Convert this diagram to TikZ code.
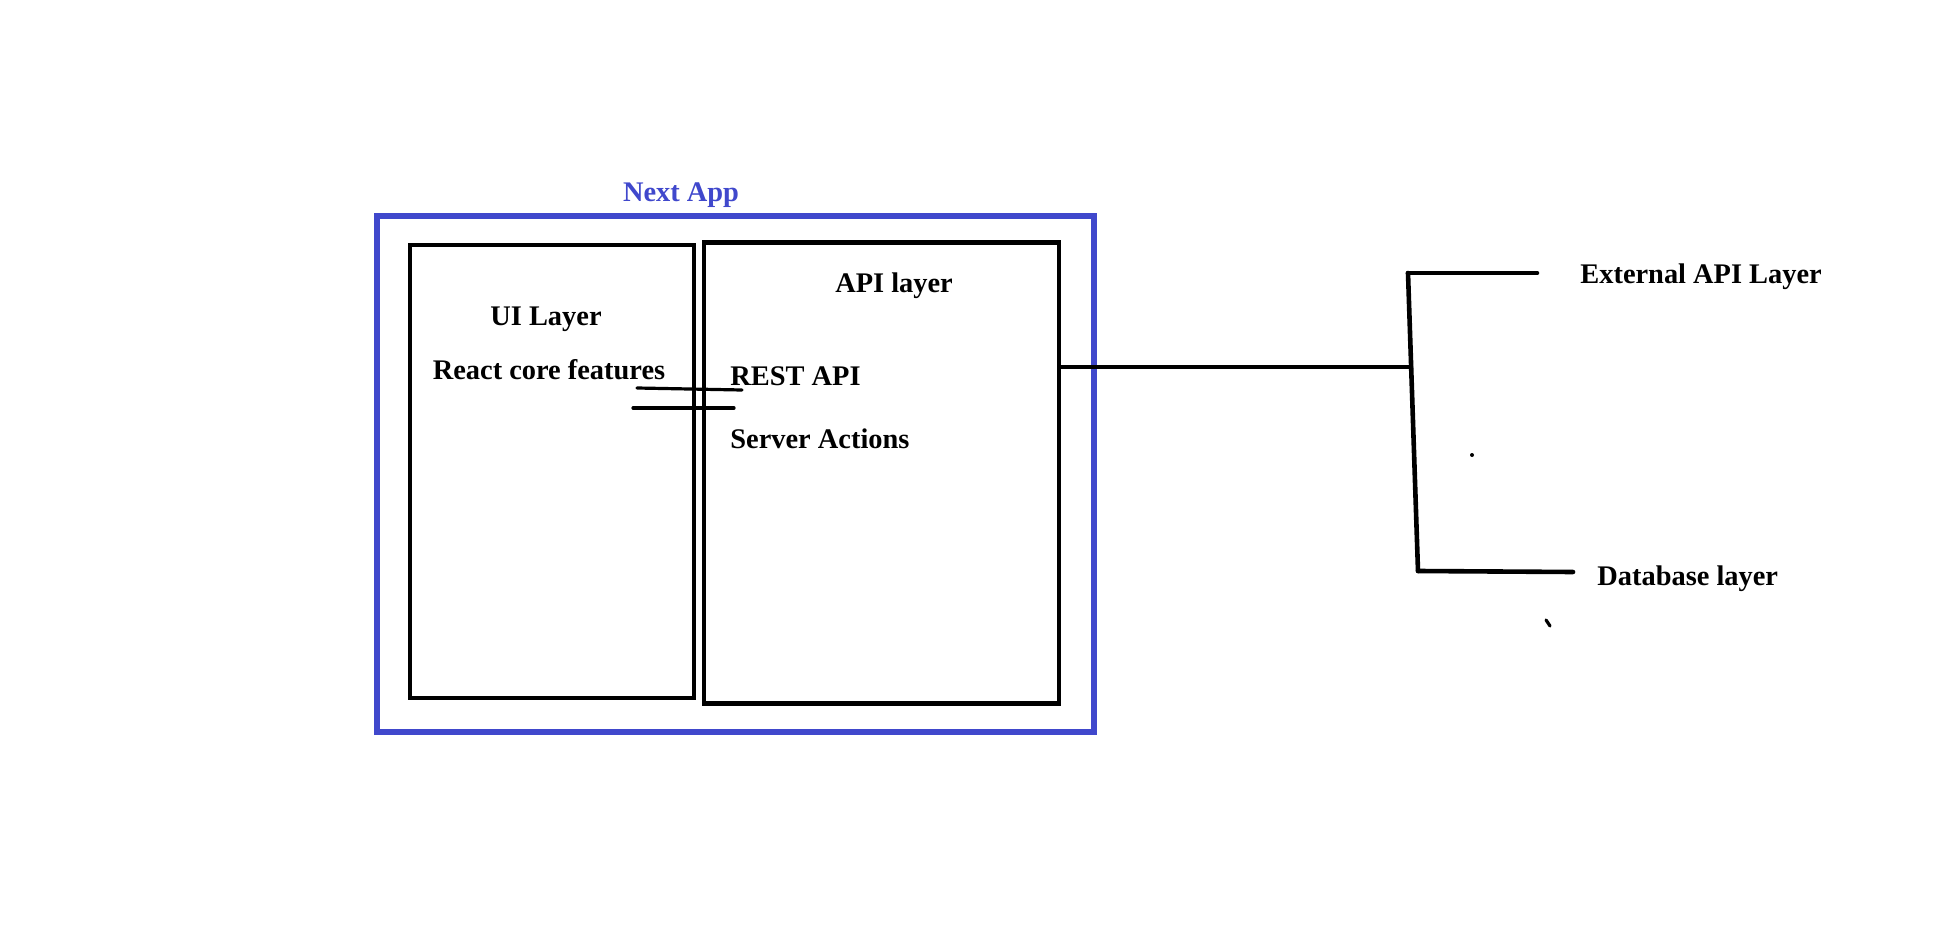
\documentclass[tikz,border=0pt]{standalone}
\usepackage{fontspec}
\setmainfont{Liberation Serif}
\usetikzlibrary{calc}
\definecolor{nextblue}{RGB}{64,72,204}

\begin{document}
\begin{tikzpicture}[x=0.5pt,y=-0.5pt,
    layer/.style={draw=black, line width=2.3pt, inner sep=0pt},
    txt/.style={font=\bfseries\fontsize{14.2}{16}\selectfont, inner sep=0pt},
    wire/.style={line width=2.3pt, line cap=round}]

    \useasboundingbox (0,0) rectangle (1949,952);

    % boxes
    \node[layer, draw=nextblue, line width=2.6pt, minimum width=358.5pt, minimum height=258pt] (next) at (735.5,474) {};
    \node[layer, minimum width=142pt, minimum height=226.5pt] (ui) at (552,471.5) {};
    \node[layer, minimum width=177.5pt, minimum height=230.75pt] (api) at (881.5,473) {};

    \node[txt, text=nextblue] (nexttxt) at (681,195) {Next App};
    \node[txt] (uitxt) at (546,319) {UI Layer};
    \node[txt] (react) at (549,370) {React core features};
    \node[txt] (apitxt) at (894,286) {API layer};
    \node[txt, anchor=west] (rest) at (730,376) {REST API};
    \node[txt, anchor=west] (server) at (730,439) {Server Actions};
    \node[txt, anchor=west] (ext) at (1580,277) {External API Layer};
    \node[txt, anchor=west] (db) at (1597,579) {Database layer};

    % strokes between ui and api
    \coordinate (s1a) at (637,388);
    \coordinate (s1b) at (742,390);
    \coordinate (s2a) at (633,408);
    \coordinate (s2b) at (734,408);
    \draw[wire, line width=1.6pt] (s1a) -- (s1b);
    \draw[wire, line width=1.6pt] (s2a) -- (s2b);

    % connectors to the right
    \coordinate (hub) at (1411,367);
    \coordinate (jext) at (1408,273);
    \coordinate (jdb) at (1418,571);
    \coordinate (extend) at (1537,273);
    \coordinate (dbend) at (1573,572);
    \draw[wire] (api.east |- hub) -- (hub);
    \draw[wire] (jext) -- (jdb);
    \draw[wire] (jext) -- (extend);
    \draw[wire] (jdb) -- (dbend);

    % stray marks
    \fill (1472,455) circle (1pt);
    \draw[wire, line width=1.6pt] (1546,620) -- (1550,626);

\end{tikzpicture}
\end{document}
